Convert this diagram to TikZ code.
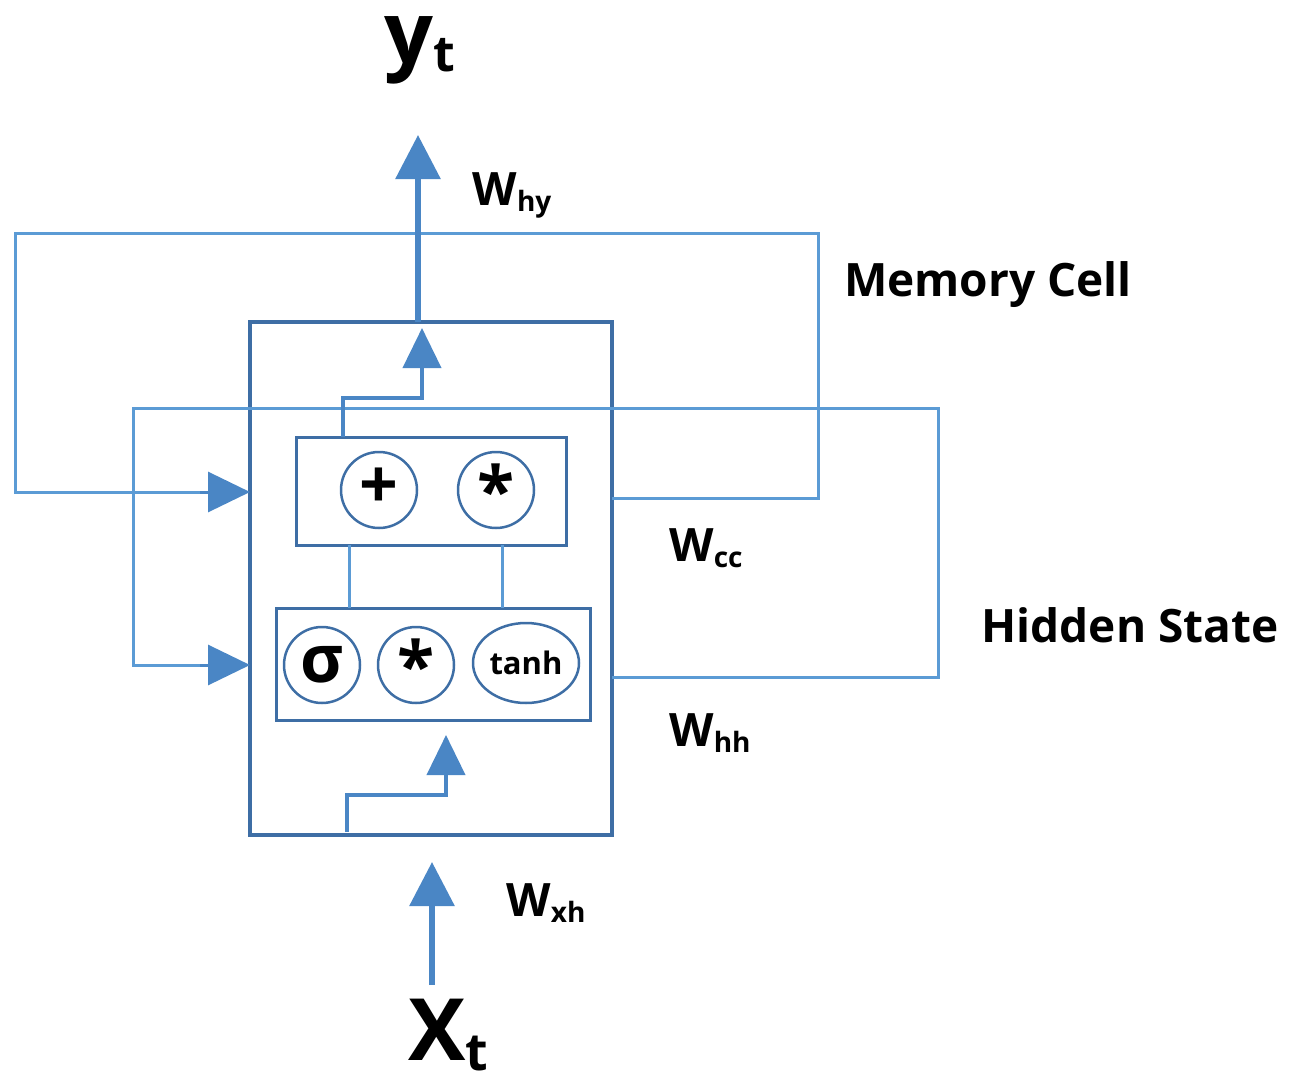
\documentclass[tikz,border=0pt]{standalone}
\usepackage{fontspec}
\setmainfont{Open Sans}
\usetikzlibrary{arrows.meta,shapes.geometric}
\definecolor{ln}{HTML}{5B9BD5}
\definecolor{ar}{HTML}{4A86C5}
\definecolor{bx}{HTML}{3E6EA5}
\begin{document}
\begin{tikzpicture}[x=1pt,y=-1pt,
  thin/.style={draw=ln,line width=3pt},
  box/.style={draw=bx,line width=3.5pt},
  big/.style={draw=ar,line width=6pt,-{Triangle[width=44pt,length=44pt]}},
  mid/.style={draw=ar,line width=4pt,-{Triangle[width=38pt,length=40pt]}},
  circ/.style={circle,draw=bx,line width=2.5pt,minimum size=76pt,inner sep=0pt,font=\bfseries\fontsize{68}{68}\selectfont},
  lab/.style={font=\fontsize{46}{50}\selectfont\bfseries,text=black}]
\useasboundingbox (0,0) rectangle (1291,1092);
% boxes
\node[box,minimum width=362pt,minimum height=513pt,inner sep=0pt] (outer) at (431,578.5) {};
\node[thin,draw=bx,minimum width=270pt,minimum height=108pt,inner sep=0pt] (top) at (431,491) {};
\node[thin,draw=bx,minimum width=314pt,minimum height=112pt,inner sep=0pt] (bot) at (433,664) {};
\node[circ] (plus) at (379,490) {\raisebox{3pt}{+}};
\node[circ] (st1) at (496,490) {\raisebox{-12pt}{*}};
\node[circ,font=\bfseries\fontsize{66}{66}\selectfont] (sig) at (322,665) {σ};
\node[circ] (st2) at (416,665) {\raisebox{-12pt}{*}};
\node[ellipse,draw=bx,line width=2.5pt,minimum width=106pt,minimum height=80pt,inner sep=0pt,font=\bfseries\fontsize{31}{31}\selectfont] (tanh) at (526,663) {tanh};
\draw[thin] (349,545) -- (349,608);
\draw[thin] (502,545) -- (502,608);
% loops
\coordinate (mc0) at (612,498);
\coordinate (hs0) at (612,677);
\draw[thin] (mc0) -- (818,498) -- (818,233) -- (15,233) -- (15,492) -- (205,492);
\draw[thin] (hs0) -- (938,677) -- (938,408) -- (133,408) -- (133,665) -- (205,665);
\coordinate (m1) at (200,492); \coordinate (m2) at (250,492);
\coordinate (h1) at (200,665); \coordinate (h2) at (250,665);
\draw[draw=ar,line width=3pt,-{Triangle[width=40pt,length=42pt]}] (m1) -- (m2);
\draw[draw=ar,line width=3pt,-{Triangle[width=40pt,length=42pt]}] (h1) -- (h2);
% arrows
\coordinate (o1) at (418,322); \coordinate (o2) at (418,135);
\draw[big] (o1) -- (o2);
\coordinate (i1) at (343,437); \coordinate (i2) at (422,328);
\draw[mid] (i1) -- (343,398) -- (422,398) -- (i2);
\coordinate (b1) at (347,832); \coordinate (b2) at (446,735);
\draw[mid] (b1) -- (347,795) -- (446,795) -- (b2);
\coordinate (x1) at (432,985); \coordinate (x2) at (432,862);
\draw[big] (x1) -- (x2);
% labels
\node[lab,font=\fontsize{86}{86}\selectfont\bfseries] (yt) at (420,50) {y\raisebox{-8pt}{\fontsize{50}{50}\selectfont t}};
\node[lab] (why) at (512,195) {W\raisebox{-6pt}{\fontsize{28}{28}\selectfont hy}};
\node[lab] (mem) at (988,285) {Memory Cell};
\node[lab] (wcc) at (706,548) {W\raisebox{-6pt}{\fontsize{28}{28}\selectfont cc}};
\node[lab] (hid) at (1130,625) {Hidden State};
\node[lab] (whh) at (710,733) {W\raisebox{-6pt}{\fontsize{28}{28}\selectfont hh}};
\node[lab] (wxh) at (546,903) {W\raisebox{-6pt}{\fontsize{28}{28}\selectfont xh}};
\node[lab,font=\fontsize{86}{86}\selectfont\bfseries] (xt) at (448,1035) {X\raisebox{-10pt}{\fontsize{52}{52}\selectfont t}};
\end{tikzpicture}
\end{document}
